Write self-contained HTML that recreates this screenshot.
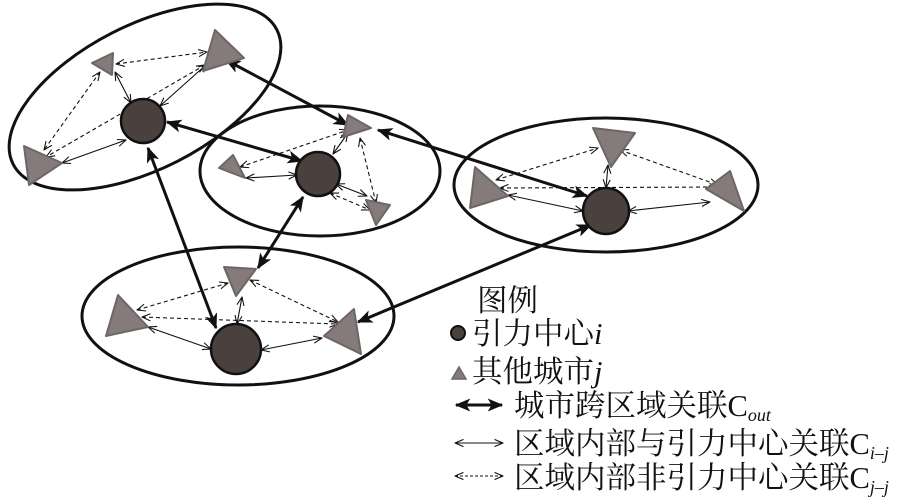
<!DOCTYPE html>
<html><head><meta charset="utf-8"><style>
body{margin:0;background:#fff;width:900px;height:499px;overflow:hidden}
text{font-family:"Liberation Serif","Noto Serif CJK SC",serif;fill:#111}
</style></head><body>
<svg width="900" height="499" viewBox="0 0 900 499" xmlns="http://www.w3.org/2000/svg">
<defs>
<marker id="big" viewBox="0 0 12 10" refX="11" refY="5" markerWidth="16" markerHeight="13" markerUnits="userSpaceOnUse" orient="auto-start-reverse"><path d="M0,0 L12,5 L0,10 L3,5 z" fill="#111"/></marker>
<marker id="thin" viewBox="0 0 10 10" refX="9.5" refY="5" markerWidth="9" markerHeight="9" markerUnits="userSpaceOnUse" orient="auto-start-reverse"><path d="M0,1 L9.5,5 L0,9" fill="none" stroke="#111" stroke-width="1.2"/></marker>
</defs>
<g fill="none" stroke="#111" stroke-width="3">
<ellipse cx="145" cy="97" rx="148" ry="72" transform="rotate(-27 145 97)"/>
<ellipse cx="320" cy="171" rx="120" ry="65"/>
<ellipse cx="606" cy="185" rx="152" ry="67"/>
<ellipse cx="238" cy="316" rx="156" ry="69"/>
</g>
<g stroke="#111" stroke-width="1.1" stroke-dasharray="4,3" fill="none" marker-start="url(#thin)" marker-end="url(#thin)">
<line x1="116" y1="64" x2="207" y2="52"/>
<line x1="100" y1="72" x2="44" y2="150"/>
<line x1="205" y1="65" x2="46" y2="157"/>
<line x1="240" y1="167" x2="348" y2="130"/>
<line x1="360" y1="138" x2="376" y2="203"/>
<line x1="330" y1="193" x2="370" y2="210"/>
<line x1="496" y1="180" x2="598" y2="148"/>
<line x1="620" y1="150" x2="718" y2="185"/>
<line x1="500" y1="188" x2="718" y2="187"/>
<line x1="137" y1="310" x2="228" y2="283"/>
<line x1="250" y1="280" x2="338" y2="322"/>
<line x1="142" y1="317" x2="338" y2="324"/>
</g>
<g stroke="#111" stroke-width="1.1" fill="none" marker-start="url(#thin)" marker-end="url(#thin)">
<line x1="115" y1="72" x2="131" y2="103"/>
<line x1="207" y1="64" x2="160" y2="106"/>
<line x1="62" y1="163" x2="126" y2="140"/>
<line x1="246" y1="178" x2="297" y2="175"/>
<line x1="348" y1="133" x2="333" y2="154"/>
<line x1="336" y1="184" x2="367" y2="196"/>
<line x1="508" y1="195" x2="583" y2="211"/>
<line x1="608" y1="165" x2="606" y2="188"/>
<line x1="628" y1="211" x2="710" y2="202"/>
<line x1="242" y1="297" x2="237" y2="324"/>
<line x1="148" y1="327" x2="211" y2="349"/>
<line x1="261" y1="350" x2="322" y2="338"/>
</g>
<g stroke="#111" stroke-width="3" fill="none" marker-start="url(#big)" marker-end="url(#big)">
<line x1="226" y1="60" x2="348" y2="125"/>
<line x1="167" y1="122" x2="302" y2="161"/>
<line x1="148" y1="148" x2="216" y2="328"/>
<line x1="303" y1="197" x2="258" y2="268"/>
<line x1="378" y1="130" x2="587" y2="196"/>
<line x1="358" y1="322" x2="591" y2="225"/>
</g>
<g fill="#857b7b" stroke="#6e6666" stroke-width="2" stroke-linejoin="round">
<polygon points="92,63 113,53 112,75"/>
<polygon points="215,30 244,58 203,71"/>
<polygon points="24,146 62,163 29,185"/>
<polygon points="219,168 233,155 245,178"/>
<polygon points="348,115 371,128 343,137"/>
<polygon points="366,200 390,205 376,225"/>
<polygon points="593,128 635,133 611,167"/>
<polygon points="475,167 508,196 470,208"/>
<polygon points="706,189 730,171 744,211"/>
<polygon points="224,267 256,269 236,296"/>
<polygon points="118,295 148,327 106,336"/>
<polygon points="324,336 354,309 361,354"/>
</g>
<g fill="#4a403d" stroke="#111" stroke-width="2.5">
<circle cx="143" cy="121" r="22"/>
<circle cx="318" cy="174" r="22"/>
<circle cx="606" cy="211" r="23"/>
<circle cx="236" cy="349" r="25"/>
</g>
<g font-size="30.5">
<text x="477" y="311">图例</text>
<circle cx="458" cy="333" r="7" fill="#4a403d" stroke="#111" stroke-width="2"/>
<text x="472" y="344">引力中心<tspan font-style="italic">i</tspan></text>
<polygon points="452,379 459,367 466,379" fill="#857b7b" stroke="#6e6666" stroke-width="1.5"/>
<text x="472" y="382">其他城市<tspan font-style="italic">j</tspan></text>
<line x1="456" y1="405" x2="502" y2="405" stroke="#111" stroke-width="3" marker-start="url(#big)" marker-end="url(#big)"/>
<text x="514" y="416">城市跨区域关联C<tspan font-size="18" font-style="italic" dy="5">out</tspan></text>
<line x1="455" y1="443" x2="503" y2="443" stroke="#111" stroke-width="1.1" marker-start="url(#thin)" marker-end="url(#thin)"/>
<text x="514" y="454">区域内部与引力中心关联C<tspan font-size="18" font-style="italic" dy="5">i–j</tspan></text>
<line x1="455" y1="476" x2="503" y2="476" stroke="#111" stroke-width="1.1" stroke-dasharray="3,2" marker-start="url(#thin)" marker-end="url(#thin)"/>
<text x="514" y="488">区域内部非引力中心关联C<tspan font-size="18" font-style="italic" dy="5">j–j</tspan></text>
</g>
</svg>
</body></html>
